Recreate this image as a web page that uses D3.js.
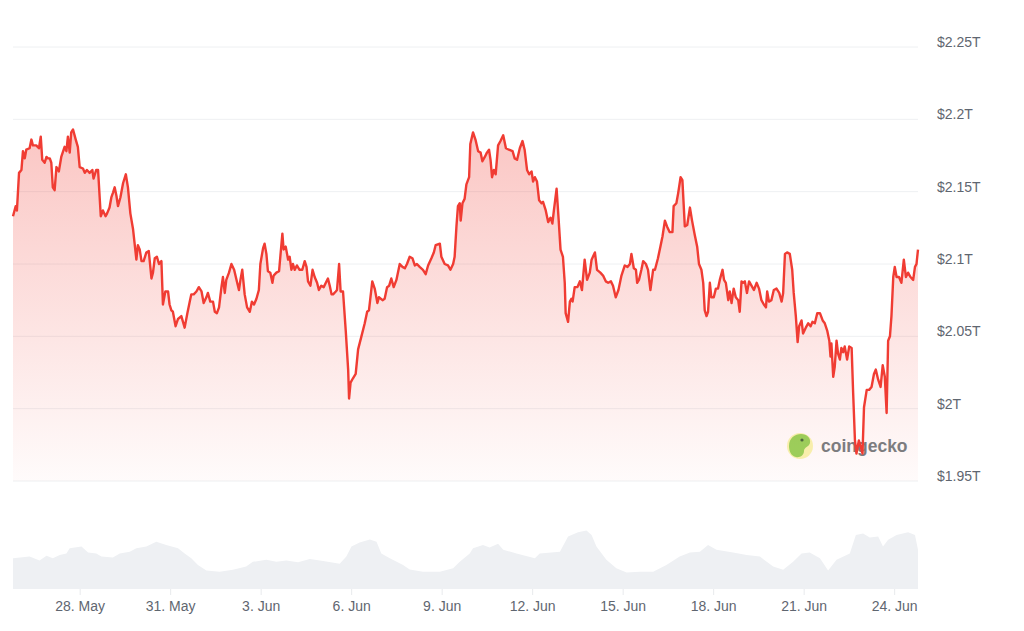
<!DOCTYPE html>
<html><head><meta charset="utf-8">
<script src="https://cdn.jsdelivr.net/npm/d3@7"></script>
<style>
html,body{margin:0;padding:0;background:#fff;}
svg{display:block;font-family:"Liberation Sans",Arial,sans-serif;}
</style></head>
<body><svg id="chart" width="1024" height="631"></svg>
<script>
// time = days relative to 28 May 2024 00:00 UTC, cap = market cap in trillions USD
const capDays = [-2.21,-2.12,-2.08,-2.01,-1.93,-1.88,-1.82,-1.77,-1.66,-1.60,-1.55,-1.44,-1.35,-1.29,-1.24,-1.16,-1.10,-1.05,-0.99,-0.94,-0.89,-0.83,-0.77,-0.69,-0.61,-0.50,-0.44,-0.39,-0.33,-0.28,-0.22,-0.13,-0.06,0.00,0.11,0.17,0.24,0.33,0.42,0.46,0.55,0.61,0.70,0.77,0.86,0.91,0.99,1.05,1.10,1.16,1.22,1.27,1.35,1.44,1.53,1.60,1.68,1.77,1.88,1.93,1.99,2.05,2.12,2.21,2.29,2.38,2.43,2.49,2.56,2.63,2.71,2.76,2.84,2.93,2.98,3.04,3.09,3.18,3.26,3.37,3.48,3.57,3.65,3.70,3.78,3.87,3.95,4.04,4.11,4.20,4.25,4.33,4.42,4.48,4.55,4.62,4.70,4.75,4.81,4.86,4.95,5.03,5.12,5.20,5.28,5.33,5.39,5.47,5.55,5.64,5.71,5.78,5.86,5.94,5.99,6.08,6.13,6.19,6.24,6.32,6.39,6.43,6.52,6.61,6.66,6.72,6.76,6.83,6.91,6.96,7.02,7.07,7.13,7.20,7.29,7.38,7.46,7.52,7.57,7.65,7.72,7.79,7.87,7.93,8.01,8.09,8.16,8.23,8.29,8.35,8.40,8.49,8.53,8.60,8.65,8.73,8.82,8.90,8.93,8.98,9.06,9.15,9.23,9.34,9.45,9.53,9.59,9.70,9.78,9.87,9.92,10.04,10.11,10.19,10.26,10.33,10.41,10.50,10.61,10.70,10.78,10.85,10.94,11.03,11.11,11.18,11.27,11.38,11.47,11.55,11.66,11.74,11.80,11.94,11.99,12.10,12.21,12.29,12.38,12.43,12.49,12.54,12.60,12.63,12.69,12.76,12.82,12.91,12.95,13.04,13.12,13.21,13.29,13.35,13.43,13.50,13.57,13.62,13.67,13.73,13.79,13.87,13.95,14.04,14.13,14.23,14.35,14.42,14.50,14.59,14.68,14.75,14.83,14.90,14.98,15.03,15.09,15.16,15.23,15.31,15.36,15.45,15.53,15.61,15.67,15.72,15.81,15.88,15.94,16.02,16.08,16.11,16.19,16.25,16.30,16.34,16.41,16.50,16.58,16.65,16.74,16.82,16.91,16.97,17.08,17.15,17.26,17.35,17.44,17.52,17.61,17.68,17.77,17.86,17.96,18.07,18.16,18.24,18.29,18.37,18.44,18.48,18.54,18.62,18.68,18.77,18.84,18.92,19.01,19.07,19.17,19.25,19.32,19.40,19.47,19.56,19.65,19.69,19.78,19.84,19.92,19.98,20.06,20.14,20.23,20.30,20.39,20.47,20.53,20.61,20.67,20.72,20.78,20.83,20.89,20.94,21.02,21.09,21.16,21.22,21.31,21.36,21.42,21.50,21.55,21.61,21.68,21.75,21.83,21.88,21.94,21.99,22.05,22.12,22.19,22.27,22.35,22.44,22.52,22.60,22.68,22.75,22.79,22.85,22.93,23.01,23.10,23.19,23.27,23.32,23.38,23.45,23.54,23.62,23.67,23.74,23.80,23.85,23.93,23.98,24.07,24.15,24.23,24.29,24.37,24.45,24.54,24.63,24.70,24.78,24.85,24.89,24.92,24.98,25.03,25.09,25.14,25.20,25.25,25.31,25.36,25.44,25.51,25.59,25.64,25.70,25.75,25.83,25.90,25.95,26.00,26.09,26.17,26.25,26.33,26.39,26.47,26.55,26.62,26.69,26.75,26.80,26.86,26.91,26.97,27.02,27.08,27.16,27.24,27.32,27.39,27.46,27.54,27.63,27.69,27.74,27.79];
const capValues = [2.133,2.140,2.137,2.163,2.165,2.178,2.173,2.179,2.180,2.186,2.182,2.182,2.180,2.188,2.172,2.170,2.174,2.173,2.173,2.170,2.153,2.151,2.167,2.164,2.174,2.181,2.178,2.188,2.177,2.191,2.193,2.186,2.181,2.167,2.166,2.163,2.165,2.163,2.165,2.159,2.165,2.165,2.133,2.137,2.133,2.135,2.139,2.146,2.149,2.153,2.147,2.140,2.146,2.156,2.162,2.153,2.135,2.124,2.103,2.113,2.110,2.102,2.102,2.108,2.109,2.090,2.094,2.104,2.105,2.100,2.102,2.072,2.081,2.081,2.072,2.068,2.067,2.057,2.062,2.064,2.056,2.066,2.074,2.079,2.079,2.081,2.084,2.081,2.073,2.077,2.080,2.074,2.074,2.067,2.066,2.070,2.084,2.091,2.080,2.089,2.094,2.100,2.096,2.089,2.082,2.089,2.096,2.079,2.070,2.067,2.074,2.072,2.076,2.082,2.100,2.111,2.114,2.107,2.095,2.094,2.087,2.092,2.094,2.095,2.107,2.121,2.110,2.112,2.103,2.105,2.096,2.100,2.096,2.099,2.096,2.096,2.102,2.098,2.088,2.085,2.096,2.091,2.087,2.082,2.085,2.084,2.087,2.090,2.085,2.079,2.079,2.081,2.082,2.100,2.081,2.081,2.054,2.027,2.007,2.018,2.021,2.024,2.041,2.050,2.059,2.067,2.068,2.088,2.083,2.073,2.077,2.075,2.076,2.084,2.085,2.090,2.084,2.089,2.100,2.098,2.097,2.100,2.105,2.104,2.099,2.100,2.098,2.096,2.093,2.099,2.104,2.108,2.113,2.114,2.105,2.100,2.099,2.096,2.100,2.105,2.126,2.140,2.142,2.130,2.142,2.145,2.155,2.160,2.183,2.191,2.186,2.178,2.177,2.171,2.174,2.177,2.179,2.172,2.160,2.165,2.162,2.182,2.185,2.189,2.180,2.179,2.178,2.173,2.172,2.180,2.185,2.179,2.165,2.162,2.164,2.157,2.160,2.157,2.144,2.142,2.143,2.137,2.129,2.132,2.128,2.137,2.152,2.130,2.110,2.105,2.087,2.066,2.060,2.074,2.076,2.074,2.084,2.084,2.088,2.082,2.103,2.089,2.094,2.103,2.108,2.096,2.094,2.092,2.088,2.087,2.088,2.085,2.077,2.082,2.092,2.099,2.098,2.100,2.107,2.097,2.096,2.087,2.089,2.096,2.102,2.100,2.096,2.082,2.096,2.096,2.104,2.112,2.119,2.130,2.126,2.122,2.122,2.140,2.142,2.149,2.160,2.158,2.126,2.127,2.139,2.130,2.120,2.112,2.100,2.096,2.087,2.068,2.064,2.067,2.087,2.077,2.077,2.083,2.083,2.089,2.096,2.089,2.087,2.075,2.081,2.073,2.083,2.077,2.075,2.067,2.088,2.087,2.088,2.080,2.088,2.085,2.082,2.087,2.083,2.075,2.072,2.070,2.081,2.074,2.075,2.082,2.083,2.080,2.074,2.080,2.107,2.108,2.107,2.096,2.080,2.064,2.046,2.057,2.061,2.052,2.056,2.059,2.057,2.060,2.059,2.066,2.066,2.061,2.059,2.054,2.047,2.036,2.045,2.022,2.029,2.047,2.038,2.034,2.042,2.039,2.043,2.034,2.043,2.042,2.011,1.978,1.969,1.978,1.973,1.969,2.001,2.013,2.013,2.015,2.024,2.027,2.020,2.015,2.030,2.022,1.997,2.047,2.050,2.064,2.091,2.098,2.091,2.091,2.087,2.103,2.091,2.094,2.091,2.089,2.098,2.100,2.110];

// volume, billions USD
const volDays = [-2.21,-1.66,-1.33,-1.10,-0.89,-0.66,-0.44,-0.33,0.06,0.28,0.55,0.72,1.10,1.33,1.66,1.88,2.21,2.54,2.87,3.26,3.48,3.70,3.92,4.20,4.64,5.08,5.52,5.74,6.19,6.52,6.85,7.24,7.63,8.07,8.62,8.84,9.01,9.28,9.62,9.84,10.00,10.28,10.72,10.94,11.38,11.94,12.38,12.60,12.93,13.04,13.37,13.59,13.87,14.04,14.48,15.09,15.25,15.92,16.19,16.52,16.80,16.97,17.13,17.46,17.79,18.13,18.57,19.01,19.45,19.89,20.23,20.56,20.83,21.11,21.66,22.11,22.55,22.99,23.32,23.65,23.93,24.20,24.54,24.81,25.09,25.53,25.73,25.97,26.19,26.47,26.63,26.80,27.08,27.46,27.69,27.79];
const volValues = [77,81,71,83,77,85,89,102,106,91,89,81,79,89,93,102,106,118,110,102,89,77,60,46,43,48,56,68,73,68,71,67,75,70,63,81,106,116,124,118,89,77,60,49,43,43,52,68,89,102,110,104,113,98,89,77,89,93,131,142,146,135,106,73,52,41,43,43,60,81,91,93,110,98,91,85,81,56,48,68,89,91,77,46,73,89,135,139,129,131,106,123,135,142,135,98];

const yTicks = [1.95, 2.0, 2.05, 2.1, 2.15, 2.2, 2.25];
const yTickLabels = ["$1.95T", "$2T", "$2.05T", "$2.1T", "$2.15T", "$2.2T", "$2.25T"];
const xTickDays = [0, 3, 6, 9, 12, 15, 18, 21, 24, 27];
const xTickLabels = ["28. May", "31. May", "3. Jun", "6. Jun", "9. Jun", "12. Jun", "15. Jun", "18. Jun", "21. Jun", "24. Jun"];

const base = Date.UTC(2024, 4, 28);
const toDate = d => new Date(base + d * 864e5);
const capData = capDays.map((d, i) => ({t: toDate(d), v: capValues[i]}));
const volData = volDays.map((d, i) => ({t: toDate(d), v: volValues[i]}));

const svg = d3.select("#chart");
const left = 13, right = 918;
const x = d3.scaleUtc().domain([toDate(capDays[0]), toDate(capDays[capDays.length - 1])]).range([left, right]);
const y = d3.scaleLinear().domain([1.95, 2.25]).range([481, 47]);
const yv = d3.scaleLinear().domain([0, 200]).range([589, 509]);

const red = "#f03c33";
const defs = svg.append("defs");
const grad = defs.append("linearGradient").attr("id", "g").attr("gradientUnits", "userSpaceOnUse")
  .attr("x1", 0).attr("x2", 0).attr("y1", y(2.2)).attr("y2", y(1.95));
grad.append("stop").attr("offset", 0).attr("stop-color", red).attr("stop-opacity", 0.3);
grad.append("stop").attr("offset", 1).attr("stop-color", red).attr("stop-opacity", 0.02);

// grid
svg.append("g").selectAll("line").data(yTicks).join("line")
  .attr("x1", left).attr("x2", right).attr("y1", d => y(d)).attr("y2", d => y(d))
  .attr("stroke", "#eef0f2").attr("stroke-width", 1);

// y labels
svg.append("g").selectAll("text").data(yTicks).join("text")
  .attr("x", 937).attr("y", d => y(d) - 5).attr("dominant-baseline", "central")
  .attr("font-size", 14).attr("fill", "#5f6670").text((d, i) => yTickLabels[i]);

// volume area
svg.append("path").datum(volData)
  .attr("d", d3.area().x(d => x(d.t)).y0(yv(0)).y1(d => yv(d.v)))
  .attr("fill", "#eef0f3");

// x ticks and labels
const xg = svg.append("g").attr("transform", `translate(0,${yv(0)})`);
xg.call(d3.axisBottom(x).tickValues(xTickDays.map(toDate)).tickSize(6).tickFormat((d, i) => xTickLabels[i]));
xg.select(".domain").remove();
xg.selectAll(".tick line").attr("stroke", "#e8eaed");
xg.selectAll(".tick text").attr("font-size", 14).attr("fill", "#5f6670")
  .attr("font-family", "Liberation Sans, Arial, sans-serif").attr("dy", null).attr("y", 17).attr("dominant-baseline", "central");

// price area
svg.append("path").datum(capData)
  .attr("d", d3.area().x(d => x(d.t)).y0(y(1.95)).y1(d => y(d.v)))
  .attr("fill", "url(#g)");

// watermark
const wm = svg.append("g").attr("opacity", 0.85);
wm.append("circle").attr("cx", 800).attr("cy", 446).attr("r", 13).attr("fill", "#f7eda0");
wm.append("path").attr("d", "M789,446 C789,438 795,434 801,434 C807,434 811,438 810,443 C809,447 804,447 804,451 C804,455 800,458 796,457 C791,456 789,451 789,446 Z").attr("fill", "#8cc63f");
wm.append("circle").attr("cx", 802).attr("cy", 440).attr("r", 1.6).attr("fill", "#2f4f1f");
wm.append("text").attr("x", 821).attr("y", 446).attr("dominant-baseline", "central")
  .attr("font-size", 17.5).attr("font-weight", "bold").attr("fill", "#66676b")
  .attr("font-family", "Liberation Sans, Arial, sans-serif").text("coingecko");

// price line
svg.append("path").datum(capData)
  .attr("d", d3.line().x(d => x(d.t)).y(d => y(d.v)))
  .attr("fill", "none").attr("stroke", red).attr("stroke-width", 2.4).attr("stroke-linejoin", "round");
</script></body></html>
